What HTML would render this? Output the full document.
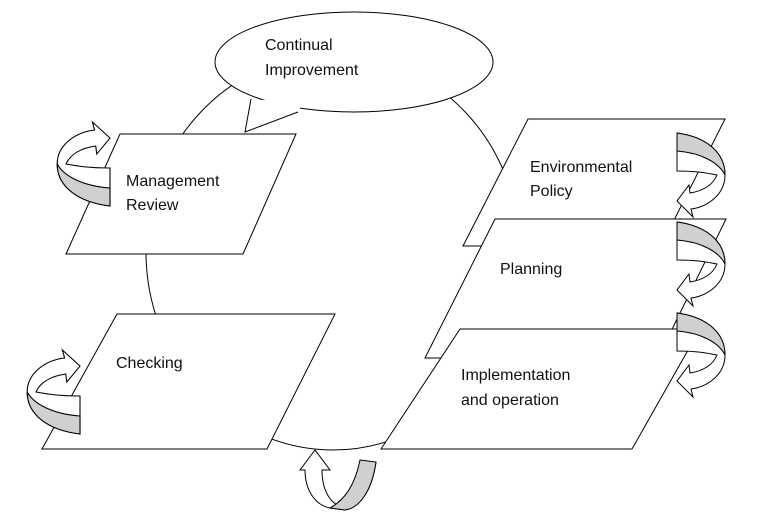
<!DOCTYPE html>
<html><head><style>
body{margin:0;background:#fff;}
svg{display:block;}
text{font-family:"Liberation Sans",sans-serif;font-size:16px;fill:#111;}
</style></head><body>
<svg width="762" height="520" viewBox="0 0 762 520">
<defs>
<g id="rarrow">
  <path d="M0,0 C30,4 48,20 48,42 C48,62 30,74 14,76 L16,84 L0,68 L12,52 L13,60 C26,58 36,52 40,42 C30,40 20,38 0,38 Z" fill="#fff" stroke="#000" stroke-width="1"/>
  <path d="M0,0 C30,4 48,20 48,42 C42,30 25,20 0,18 Z" fill="#d0d0d0" stroke="#000" stroke-width="1"/>
</g>
</defs>
<rect width="762" height="520" fill="#fff"/>
<ellipse cx="333" cy="252" rx="187" ry="198" fill="none" stroke="#000" stroke-width="1"/>
<!-- callout -->
<ellipse cx="354" cy="62" rx="139" ry="50" fill="#fff" stroke="#000"/>
<polygon points="252,100 245,132 300,111 300,100" fill="#fff"/>
<polyline points="251,99 245,132 298,112" fill="none" stroke="#000"/>
<text x="265" y="50">Continual</text>
<text x="265" y="75">Improvement</text>

<polygon points="120,134 296,134 243,254 66,254" fill="#fff" stroke="#000"/>
<text x="126" y="186">Management</text>
<text x="126" y="210">Review</text>
<polygon points="117,314 335,314 267,449 42,449" fill="#fff" stroke="#000"/>
<text x="116" y="368">Checking</text>
<polygon points="528,119 725,119 661,246 463,246" fill="#fff" stroke="#000"/>
<text x="530" y="172">Environmental</text>
<text x="530" y="196">Policy</text>
<polygon points="495,219 726,219 658,358 425,358" fill="#fff" stroke="#000"/>
<text x="500" y="274">Planning</text>
<polygon points="460,329 700,329 632,449 381,449" fill="#fff" stroke="#000"/>
<text x="461" y="380">Implementation</text>
<text x="461" y="405">and operation</text>

<use href="#rarrow" transform="translate(677,133)"/>
<use href="#rarrow" transform="translate(677,222)"/>
<use href="#rarrow" transform="translate(677,313)"/>

<use href="#rarrow" transform="translate(110,206) scale(-1.1,-1)"/>
<use href="#rarrow" transform="translate(80,434) scale(-1.1,-1)"/>

<path d="M376,462 C372,490 360,508 345,510 L330,508 C315,505 305,490 305,470 L300,470 L315,450 L330,470 L322,470 C322,490 330,505 345,508" fill="#fff" stroke="#000"/>
<path d="M360,460 L376,462 C372,490 360,508 345,510 L330,508 C345,500 355,485 360,460 Z" fill="#d0d0d0" stroke="#000"/>
</svg>
</body></html>
